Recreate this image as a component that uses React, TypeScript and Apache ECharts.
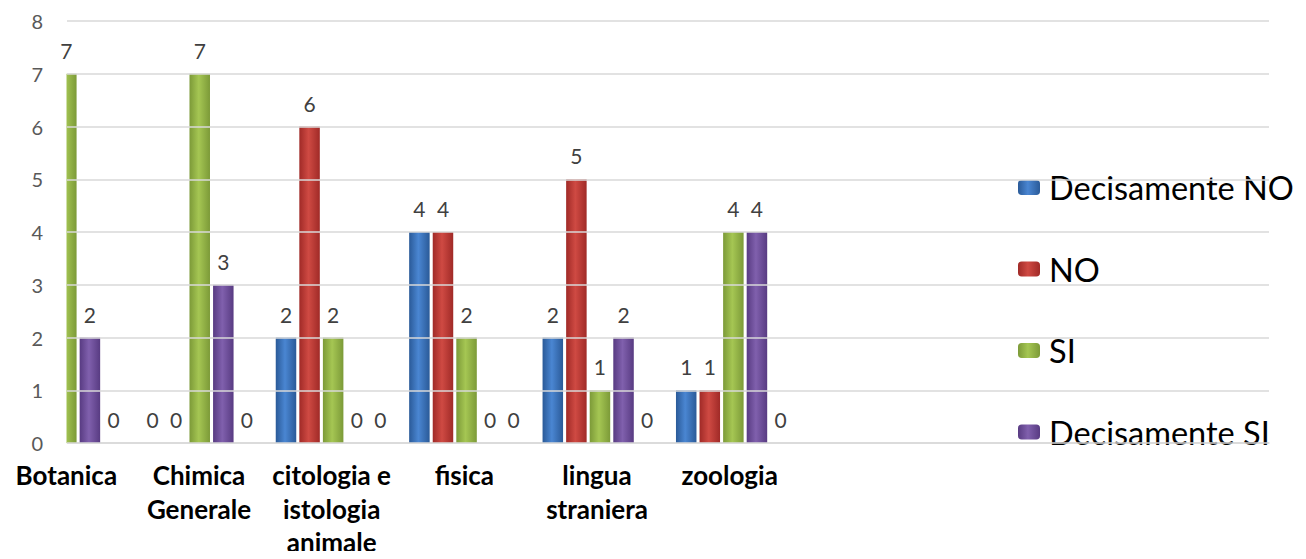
import React, { useEffect, useRef } from "react";
import * as echarts from "echarts";

const titleText = "laboratorio";
const categories = [
  "Botanica",
  "Chimica\nGenerale",
  "citologia e\nistologia\nanimale",
  "fisica",
  "lingua\nstraniera",
  "zoologia",
];
const seriesNames = ["Decisamente NO", "NO", "SI", "Decisamente SI", ""];
const decisamenteNo: (number | null)[] = [null, 0, 2, 4, 2, 1];
const no: (number | null)[] = [null, 0, 6, 4, 5, 1];
const si: (number | null)[] = [7, 7, 2, 2, 1, 4];
const decisamenteSi: (number | null)[] = [2, 3, 0, 0, 2, 4];
const fifth: (number | null)[] = [0, 0, 0, 0, 0, 0];
const yTicks = { min: 0, max: 8, interval: 1 };

const palettes = [
  ["#2a5a98", "#4a86d2"],
  ["#a02a27", "#cf4a43"],
  ["#7c9a38", "#a5c653"],
  ["#583b82", "#8060ad"],
  ["#888888", "#aaaaaa"],
];

const FONT = "Lato, 'Noto Sans', sans-serif";

export default function App() {
  const ref = useRef<HTMLDivElement>(null);
  useEffect(() => {
    if (!ref.current) return;
    const chart = echarts.init(ref.current, undefined, { renderer: "svg" });
    const all = [decisamenteNo, no, si, decisamenteSi, fifth];
    const grad = (p: string[]) =>
      new echarts.graphic.LinearGradient(0, 0, 1, 0, [
        { offset: 0, color: p[0] },
        { offset: 0.45, color: p[1] },
        { offset: 1, color: p[0] },
      ]);
    chart.setOption({
      animation: false,
      backgroundColor: "#ffffff",
      title: {
        text: titleText,
        left: 633,
        textAlign: "center",
        top: -26,
        textStyle: { fontFamily: FONT, fontWeight: "bold", fontSize: 32, color: "#000", lineHeight: 32 },
      },
      legend: {
        orient: "vertical",
        left: 1018,
        top: 171,
        padding: 0,
        itemWidth: 22,
        itemHeight: 15,
        itemGap: 48.5,
        data: seriesNames.slice(0, 4),
        textStyle: { fontFamily: FONT, fontSize: 32.5, color: "#000", lineHeight: 33, padding: [0, 0, 0, 4] },
      },
      // white margin left of the plot area: the plot area starts at x = 67
      graphic: [
        {
          type: "rect",
          z: 5,
          shape: { x: 0, y: 60, width: 66.5, height: 390 },
          style: { fill: "#ffffff" },
          silent: true,
        },
      ],
      grid: [
        { left: 67, right: 37, top: 21, bottom: 116, containLabel: false },
        { left: 0, width: 796, top: 21, bottom: 116, containLabel: false },
      ],
      xAxis: [
        {
          type: "value",
          gridIndex: 0,
          min: 0.005,
          max: 9.015,
          axisLabel: { show: false },
          axisTick: { show: false },
          splitLine: { show: false },
          axisLine: { show: true, lineStyle: { color: "#d9d9d9", width: 1.5 } },
        },
        {
          type: "category",
          gridIndex: 1,
          data: categories,
          axisLine: { show: false },
          axisTick: { show: false },
          axisLabel: {
            interval: 0,
            margin: 19,
            fontFamily: FONT,
            fontWeight: "bold",
            fontSize: 26,
            lineHeight: 33.5,
            color: "#000",
          },
        },
      ],
      yAxis: [
        {
          type: "value",
          gridIndex: 0,
          z: 10,
          min: yTicks.min,
          max: yTicks.max,
          interval: yTicks.interval,
          axisLine: { show: false },
          axisTick: { show: false },
          axisLabel: { margin: 24, fontFamily: FONT, fontSize: 20, color: "#595959" },
          splitLine: { lineStyle: { color: "#d9d9d9", width: 1.5 } },
        },
        {
          type: "value",
          gridIndex: 1,
          min: yTicks.min,
          max: yTicks.max,
          show: false,
          splitLine: { show: false },
        },
      ],
      series: all.map((arr, si2) => ({
        name: seriesNames[si2],
        type: "bar",
        xAxisIndex: 0,
        yAxisIndex: 0,
        barWidth: 20.5,
        barGap: "15%",
        data: arr.map((v, i) => [i, v === null ? "-" : v]),
        itemStyle: { color: grad(palettes[si2]) },
        label: {
          show: true,
          position: "top",
          distance: 13,
          fontFamily: FONT,
          fontSize: 21,
          color: "#404040",
          formatter: (p: any) => String(p.value[1]),
        },
      })),
    });
    return () => chart.dispose();
  }, []);
  return <div ref={ref} style={{ width: 1306, height: 559, margin: -8 }} />;
}
